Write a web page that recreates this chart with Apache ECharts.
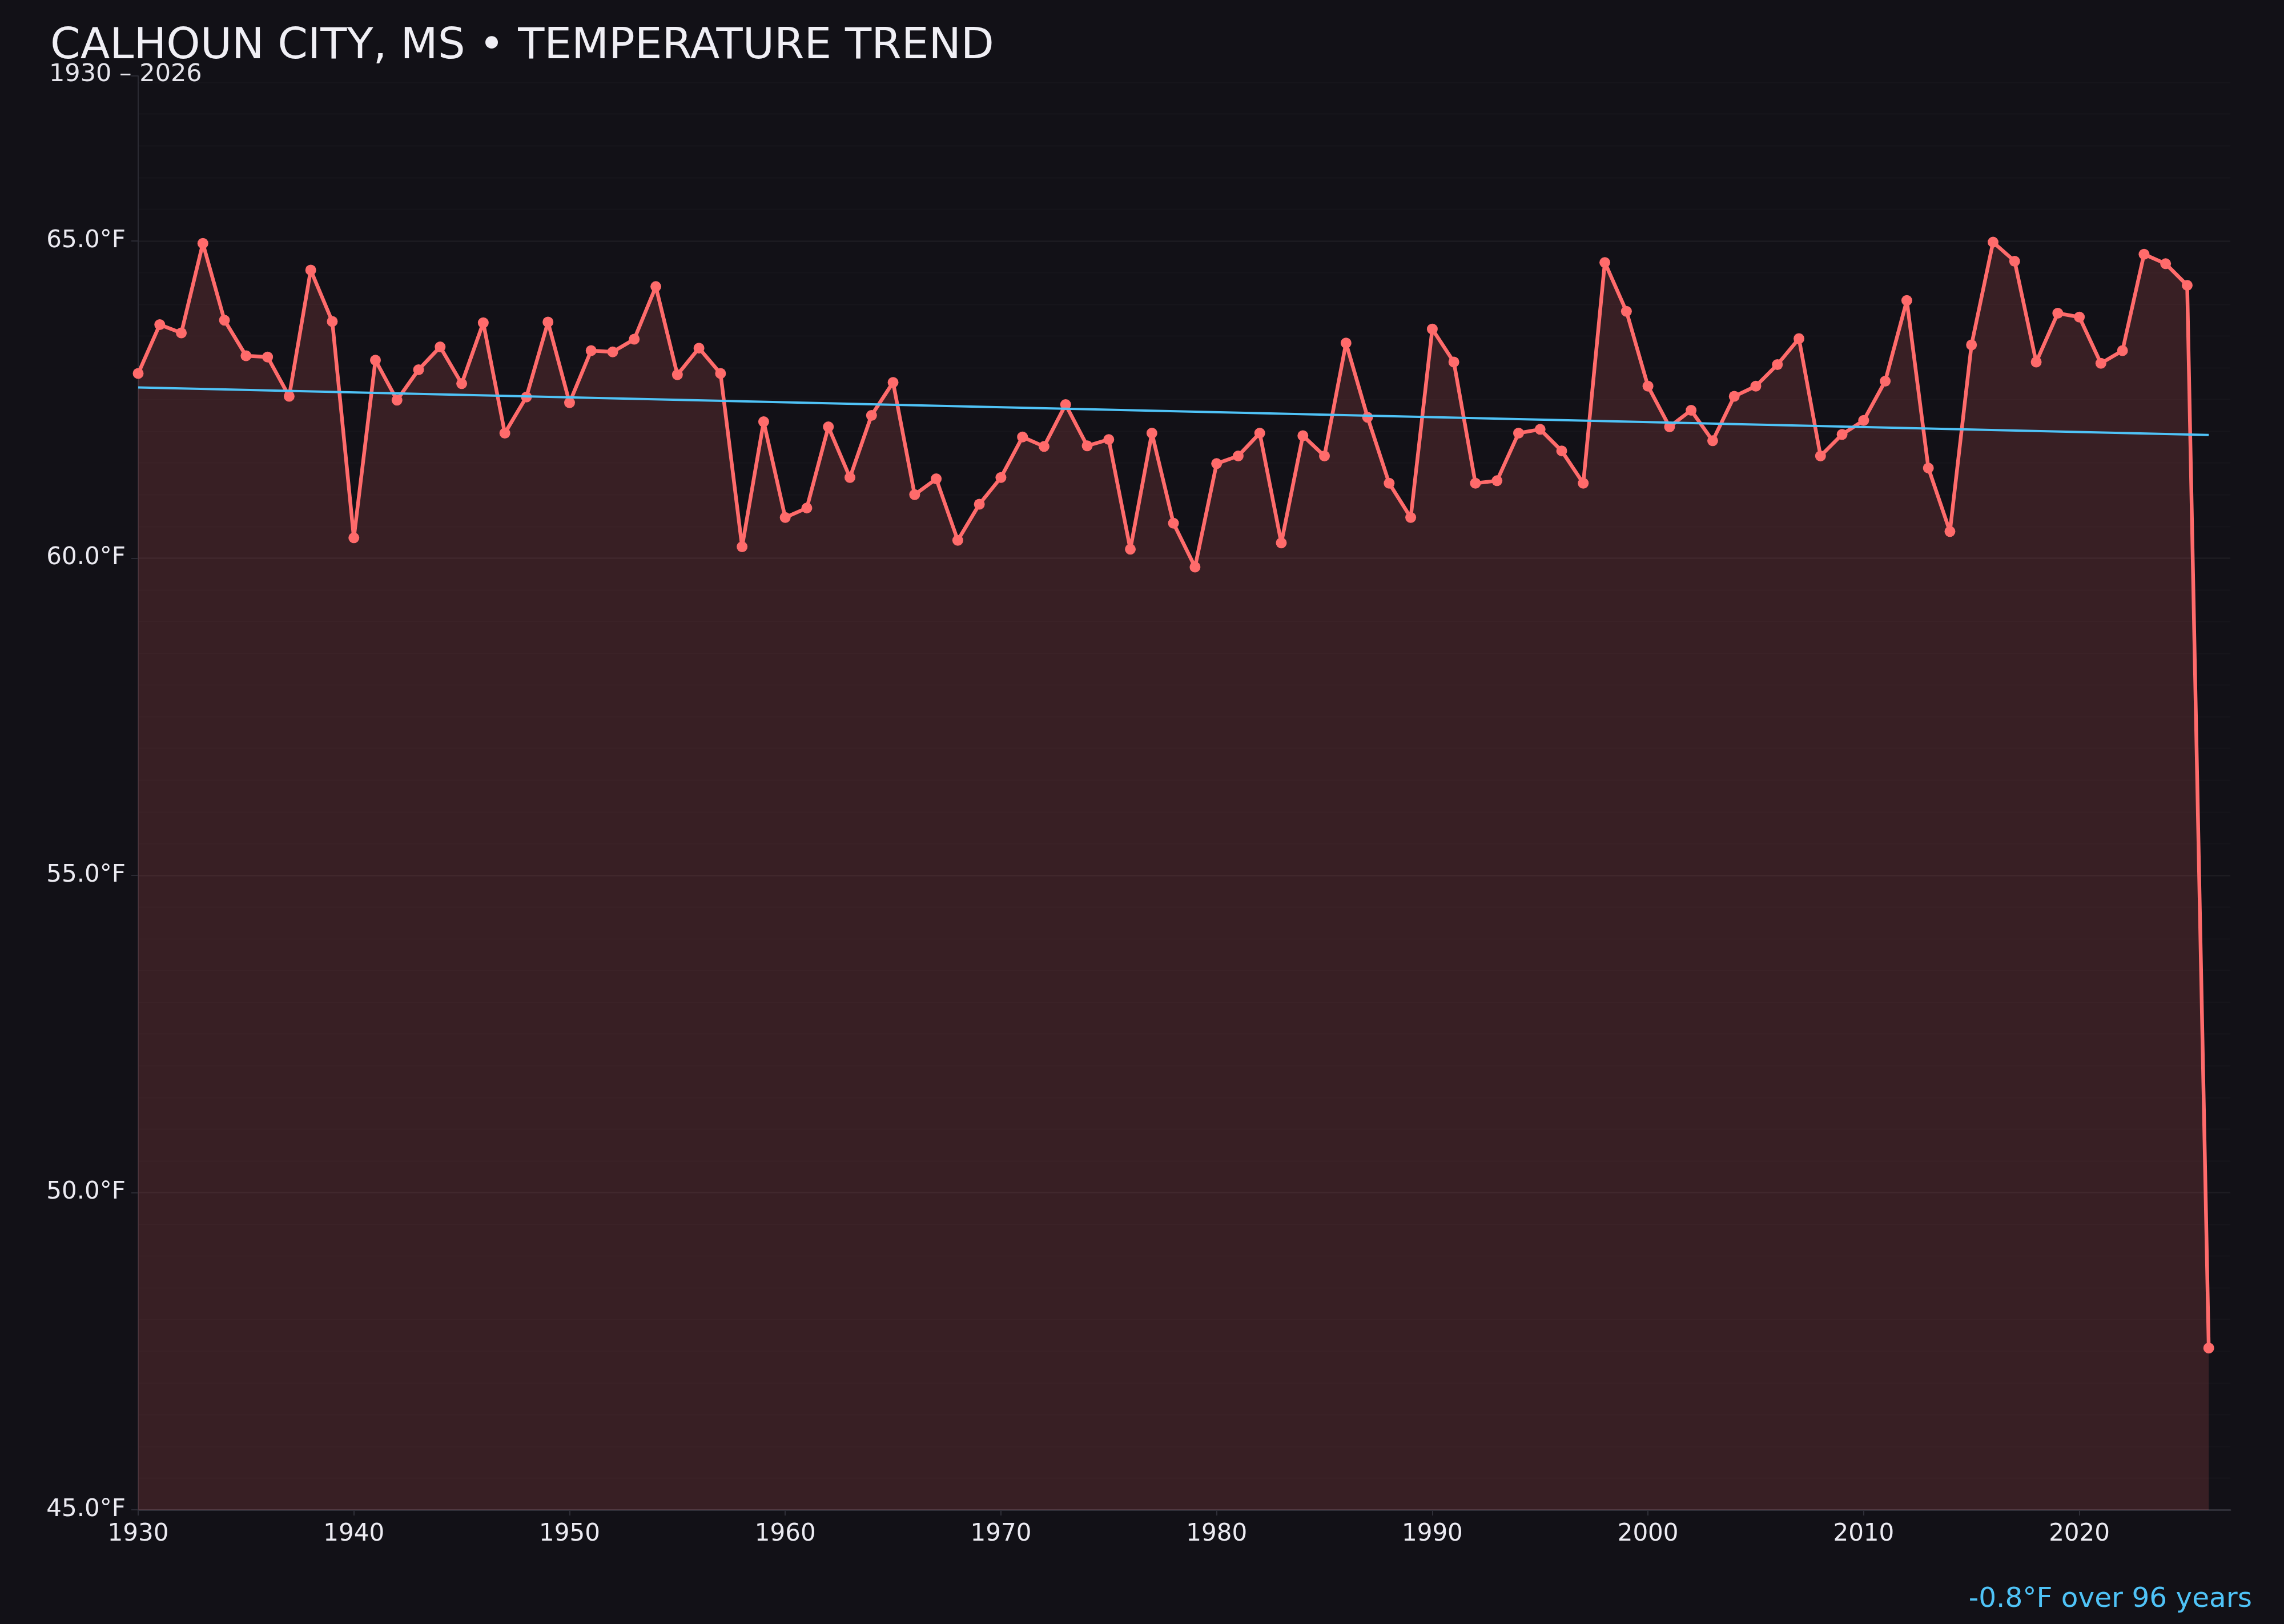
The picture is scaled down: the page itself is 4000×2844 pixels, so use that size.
<!DOCTYPE html>
<html>
<head>
<meta charset="utf-8">
<style>
  html, body { margin: 0; padding: 0; background: #121117; }
  #chart { width: 4000px; height: 2844px; }
</style>
<script src="https://cdn.jsdelivr.net/npm/echarts@6/dist/echarts.min.js"></script>
</head>
<body>
<div id="chart"></div>
<script>
// ---- data ----
const years = [
  1930,1931,1932,1933,1934,1935,1936,1937,1938,1939,
  1940,1941,1942,1943,1944,1945,1946,1947,1948,1949,
  1950,1951,1952,1953,1954,1955,1956,1957,1958,1959,
  1960,1961,1962,1963,1964,1965,1966,1967,1968,1969,
  1970,1971,1972,1973,1974,1975,1976,1977,1978,1979,
  1980,1981,1982,1983,1984,1985,1986,1987,1988,1989,
  1990,1991,1992,1993,1994,1995,1996,1997,1998,1999,
  2000,2001,2002,2003,2004,2005,2006,2007,2008,2009,
  2010,2011,2012,2013,2014,2015,2016,2017,2018,2019,
  2020,2021,2022,2023,2024,2025,2026
];
const temps = [
  62.91,63.68,63.55,64.96,63.75,63.19,63.17,62.55,64.54,63.73,
  60.32,63.12,62.49,62.97,63.33,62.75,63.71,61.97,62.54,63.72,
  62.45,63.27,63.25,63.45,64.28,62.89,63.31,62.91,60.18,62.15,
  60.64,60.79,62.07,61.27,62.25,62.77,61.00,61.25,60.28,60.85,
  61.27,61.91,61.76,62.42,61.77,61.87,60.14,61.97,60.55,59.86,
  61.49,61.61,61.97,60.24,61.93,61.61,63.39,62.22,61.18,60.64,
  63.61,63.09,61.18,61.22,61.97,62.03,61.69,61.18,64.66,63.89,
  62.71,62.07,62.33,61.85,62.55,62.71,63.05,63.46,61.61,61.95,
  62.17,62.79,64.06,61.42,60.42,63.36,64.98,64.68,63.09,63.86,
  63.80,63.07,63.27,64.79,64.64,64.30,47.55
];
const trendYears = [1930, 2026];
const trendValues = [62.69, 61.94];
const yTickLabels = [45, 50, 55, 60, 65];
const titleText = 'CALHOUN CITY, MS \u2022 TEMPERATURE TREND';
const subtitleText = '1930 \u2013 2026';
const trendNote = '-0.8\u00B0F over 96 years';

// ---- build ----
const FONT = 'DejaVu Sans';
const lineData = years.map((y, i) => [y, temps[i]]);
const trendData = trendYears.map((y, i) => [y, trendValues[i]]);

const MAJOR = 'rgba(255,255,255,0.05)';
const MINOR = 'rgba(255,255,255,0.02)';
const gridColors = [MAJOR, MINOR, MINOR, MINOR, MINOR, MINOR, MINOR, MINOR, MINOR, MINOR];

const chart = echarts.init(document.getElementById('chart'), null, { renderer: 'canvas' });
chart.setOption({
  backgroundColor: '#121117',
  animation: false,
  textStyle: { fontFamily: FONT },
  title: [
    {
      text: titleText, left: 88, top: 44, padding: 0,
      textStyle: { color: '#f0eff5', fontSize: 75.5, fontWeight: 'normal', fontFamily: FONT }
    },
    {
      text: subtitleText, left: 86, top: 109, padding: 0,
      textStyle: { color: '#e6e5ec', fontSize: 43, fontWeight: 'normal', fontFamily: FONT }
    },
    {
      text: trendNote, right: 56, top: 2777, padding: 0,
      textStyle: { color: '#4fc3f7', fontSize: 48.5, fontWeight: 'normal', fontFamily: FONT }
    }
  ],
  grid: { left: 242, right: 94, top: 133, bottom: 200, containLabel: false },
  xAxis: {
    type: 'value', min: 1930, max: 2027, interval: 10,
    axisLine: { show: true, lineStyle: { color: '#2f2f38', width: 3 } },
    axisTick: { show: true, length: 10, lineStyle: { color: '#2f2f38', width: 2 } },
    axisLabel: {
      color: '#ecebf2', fontSize: 42, fontFamily: FONT, margin: 22,
      showMaxLabel: false, formatter: v => String(v)
    },
    splitLine: { show: false }
  },
  yAxis: [
    {
      type: 'value', min: 45, max: 67.6, interval: 0.5, position: 'left',
      axisLine: { show: true, lineStyle: { color: '#2b2b34', width: 2 } },
      axisTick: { show: false },
      axisLabel: {
        color: '#ecebf2', fontSize: 42, fontFamily: FONT, margin: 22,
        showMaxLabel: false,
        formatter: v => (yTickLabels.indexOf(Math.round(v * 10) / 10) >= 0 ? v.toFixed(1) + '\u00B0F' : '')
      },
      splitLine: { show: true, showMaxLine: false, lineStyle: { color: gridColors, width: 2.5 } }
    },
    {
      type: 'value', min: 45, max: 67.6, interval: 5, position: 'left', offset: 0,
      axisLine: { show: false },
      axisTick: { show: true, length: 12, lineStyle: { color: '#2b2b34', width: 2 } },
      axisLabel: { show: false },
      splitLine: { show: false }
    }
  ],
  series: [
    {
      type: 'line', data: lineData, xAxisIndex: 0, yAxisIndex: 0,
      symbol: 'circle', symbolSize: 19, showSymbol: true, showAllSymbol: true,
      lineStyle: { color: '#ff6b6b', width: 6.5 },
      itemStyle: { color: '#ff6b6b' },
      areaStyle: { color: 'rgba(255,107,107,0.16)', opacity: 1, origin: 'start' },
      z: 2
    },
    {
      type: 'line', data: trendData, xAxisIndex: 0, yAxisIndex: 0,
      symbol: 'none', showSymbol: false,
      lineStyle: { color: '#4fc3f7', width: 4 },
      z: 3
    }
  ]
});
</script>
</body>
</html>
